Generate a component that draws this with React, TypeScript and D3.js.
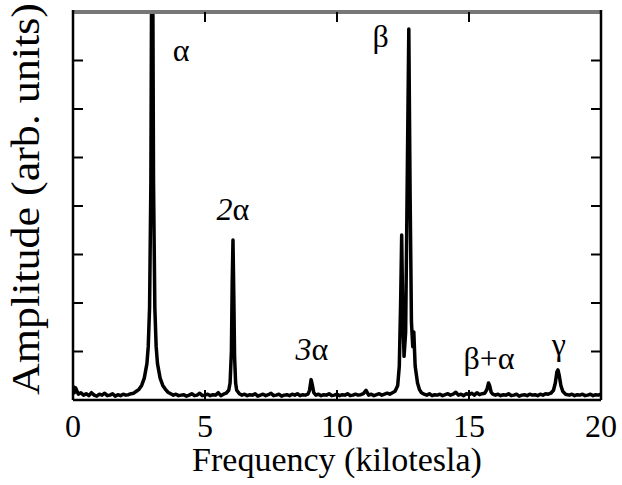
import * as React from 'react';
import {scaleLinear, line} from 'd3';

// frequency (kT), amplitude (arb. units, 1 unit = one y tick)
const spectrum: [number, number][] = [
    [0, 0.3], [0.05, 0.15], [0.1, 0.25], [0.2, 0.12], [0.3, 0.15], [0.4, 0.1], [0.5, 0.13],
    [0.6, 0.09], [0.7, 0.15], [0.8, 0.1], [0.9, 0.08], [1.0, 0.12], [1.1, 0.1], [1.2, 0.14],
    [1.3, 0.09], [1.4, 0.1], [1.5, 0.13], [1.6, 0.08], [1.7, 0.11], [1.8, 0.09], [1.9, 0.12],
    [2.0, 0.1], [2.1, 0.11], [2.2, 0.13], [2.3, 0.14], [2.4, 0.18], [2.5, 0.22], [2.6, 0.3],
    [2.7, 0.45], [2.8, 0.75], [2.85, 1.1], [2.9, 1.9], [2.95, 4.5], [2.98, 9], [3.0, 12],
    [3.02, 9], [3.05, 4.5], [3.1, 1.9], [3.15, 1.1], [3.2, 0.75], [3.3, 0.45], [3.4, 0.3],
    [3.5, 0.22], [3.6, 0.16], [3.7, 0.13], [3.8, 0.1], [3.9, 0.12], [4.0, 0.09], [4.1, 0.1],
    [4.2, 0.11], [4.3, 0.08], [4.4, 0.1], [4.5, 0.13], [4.6, 0.09], [4.7, 0.1], [4.8, 0.14],
    [4.9, 0.09], [5.0, 0.1], [5.1, 0.12], [5.2, 0.09], [5.3, 0.11], [5.4, 0.1], [5.5, 0.15],
    [5.6, 0.09], [5.7, 0.12], [5.8, 0.14], [5.9, 0.2], [5.95, 0.35], [6.0, 1.0], [6.03, 2.4],
    [6.06, 3.3], [6.09, 2.2], [6.12, 0.9], [6.16, 0.35], [6.2, 0.2], [6.3, 0.13], [6.4, 0.1],
    [6.5, 0.12], [6.6, 0.09], [6.7, 0.11], [6.8, 0.1], [6.9, 0.13], [7.0, 0.08], [7.1, 0.1],
    [7.2, 0.12], [7.3, 0.09], [7.4, 0.11], [7.5, 0.14], [7.6, 0.09], [7.7, 0.1], [7.8, 0.12],
    [7.9, 0.08], [8.0, 0.1], [8.1, 0.11], [8.2, 0.09], [8.3, 0.12], [8.4, 0.1], [8.5, 0.13],
    [8.6, 0.09], [8.7, 0.11], [8.8, 0.1], [8.9, 0.12], [8.96, 0.2], [9.02, 0.42], [9.07, 0.3],
    [9.12, 0.15], [9.2, 0.1], [9.3, 0.12], [9.4, 0.09], [9.5, 0.11], [9.6, 0.1], [9.7, 0.13],
    [9.8, 0.09], [9.9, 0.1], [10.0, 0.12], [10.1, 0.09], [10.2, 0.11], [10.3, 0.1], [10.4, 0.13],
    [10.5, 0.09], [10.6, 0.1], [10.7, 0.12], [10.8, 0.1], [10.9, 0.11], [11.0, 0.13], [11.1, 0.2],
    [11.2, 0.1], [11.3, 0.12], [11.4, 0.09], [11.5, 0.11], [11.6, 0.13], [11.7, 0.1], [11.8, 0.12],
    [11.9, 0.14], [12.0, 0.12], [12.1, 0.15], [12.2, 0.18], [12.3, 0.3], [12.36, 0.7],
    [12.41, 2.0], [12.45, 3.4], [12.49, 1.8], [12.54, 0.9], [12.6, 1.4], [12.66, 4.5],
    [12.72, 7.65], [12.77, 4.2], [12.82, 1.6], [12.87, 1.1], [12.91, 1.4], [12.96, 0.7],
    [13.05, 0.35], [13.12, 0.22], [13.2, 0.15], [13.3, 0.12], [13.4, 0.1], [13.5, 0.13],
    [13.6, 0.09], [13.7, 0.11], [13.8, 0.1], [13.9, 0.12], [14.0, 0.09], [14.1, 0.11],
    [14.2, 0.13], [14.3, 0.1], [14.4, 0.12], [14.5, 0.16], [14.6, 0.1], [14.7, 0.12],
    [14.8, 0.09], [14.9, 0.13], [15.0, 0.11], [15.1, 0.14], [15.2, 0.1], [15.3, 0.15],
    [15.4, 0.11], [15.5, 0.13], [15.6, 0.14], [15.68, 0.22], [15.74, 0.35], [15.78, 0.3],
    [15.84, 0.16], [15.9, 0.12], [16.0, 0.1], [16.1, 0.12], [16.2, 0.09], [16.3, 0.11],
    [16.4, 0.1], [16.5, 0.13], [16.6, 0.09], [16.7, 0.1], [16.8, 0.12], [16.9, 0.08],
    [17.0, 0.1], [17.1, 0.11], [17.2, 0.09], [17.3, 0.12], [17.4, 0.1], [17.5, 0.11],
    [17.6, 0.09], [17.7, 0.12], [17.8, 0.1], [17.9, 0.13], [18.0, 0.12], [18.1, 0.14],
    [18.2, 0.2], [18.27, 0.35], [18.33, 0.58], [18.37, 0.62], [18.42, 0.5], [18.48, 0.3],
    [18.55, 0.18], [18.65, 0.12], [18.8, 0.1], [18.9, 0.12], [19.0, 0.09], [19.1, 0.11],
    [19.2, 0.1], [19.3, 0.12], [19.4, 0.09], [19.5, 0.1], [19.6, 0.12], [19.7, 0.09],
    [19.8, 0.11], [19.9, 0.1], [20.0, 0.12]
];

const xTicks = [0, 5, 10, 15, 20];
const yTicks = [1, 2, 3, 4, 5, 6, 7];

// peak labels: italic prefix, greek part, anchor in data units
const peakPrefix = ['', '2', '3', '', '', ''];
const peakGreek = ['α', 'α', 'α', 'β', 'β+α', 'γ'];
const peakX = [4.1, 6.06, 9.05, 11.65, 15.76, 18.4];
const peakY = [7.0, 3.72, 0.83, 7.28, 0.64, 0.93];

const W = 622;
const H = 485;
const margin = {left: 73, right: 21, top: 12, bottom: 85};
const width = W - margin.left - margin.right;
const height = H - margin.top - margin.bottom;

const xScale = scaleLinear().domain([0, 20]).range([0, width]);
const yScale = scaleLinear().domain([0, 8]).range([height, 0]);

const path = line<[number, number]>()
    .x(d => xScale(d[0]))
    .y(d => yScale(d[1]));

const serif = '"Liberation Serif", "DejaVu Serif", serif';
const txt = {fontFamily: serif, fill: '#000'};

export default function App() {
    const tickLen = 10;
    return (
        <svg width={W} height={H} style={{position: 'absolute', left: 0, top: 0, background: '#fff', fontFamily: serif}}>
            <defs>
                <clipPath id="plotclip">
                    <rect x={0} y={0} width={width} height={height}/>
                </clipPath>
            </defs>
            <g transform={`translate(${margin.left}, ${margin.top})`}>
                <g clipPath="url(#plotclip)">
                    <path d={path(spectrum)!} fill="none" stroke="#000" strokeWidth={3.5}
                          strokeLinejoin="round"/>
                </g>

                {/* frame */}
                <line x1={0} x2={width} y1={0} y2={0} stroke="#777" strokeWidth={4}/>
                <line x1={0} x2={0} y1={-2} y2={height} stroke="#000" strokeWidth={2.5}/>
                <line x1={width} x2={width} y1={-2} y2={height} stroke="#000" strokeWidth={2.5}/>
                <line x1={0} x2={width} y1={height} y2={height} stroke="#000" strokeWidth={2.5}/>

                {yTicks.map(t => (
                    <g key={'y' + t}>
                        <line x1={0} x2={tickLen} y1={yScale(t)} y2={yScale(t)} stroke="#000" strokeWidth={2}/>
                        <line x1={width} x2={width - tickLen} y1={yScale(t)} y2={yScale(t)} stroke="#000" strokeWidth={2}/>
                    </g>
                ))}
                {xTicks.map(t => (
                    <g key={'x' + t}>
                        <line x1={xScale(t)} x2={xScale(t)} y1={0} y2={tickLen} stroke="#000" strokeWidth={2}/>
                        <line x1={xScale(t)} x2={xScale(t)} y1={height} y2={height - tickLen} stroke="#000" strokeWidth={2}/>
                        <text x={xScale(t)} y={height + 37} textAnchor="middle" fontSize={32} style={txt}>{t}</text>
                    </g>
                ))}

                {peakGreek.map((g, i) => (
                    <text key={i} x={xScale(peakX[i])} y={yScale(peakY[i])} textAnchor="middle" fontSize={32} style={txt}>
                        {peakPrefix[i] && <tspan fontStyle="italic">{peakPrefix[i]}</tspan>}
                        <tspan>{g}</tspan>
                    </text>
                ))}

                <text x={width / 2} y={height + 71} textAnchor="middle" fontSize={34} style={txt}>
                    Frequency (kilotesla)
                </text>
                <text transform={`translate(${-34}, ${height / 2 - 7}) rotate(-90)`} textAnchor="middle"
                      fontSize={39} textLength={392} lengthAdjust="spacingAndGlyphs" style={txt}>
                    Amplitude (arb. units)
                </text>
            </g>
        </svg>
    );
}
